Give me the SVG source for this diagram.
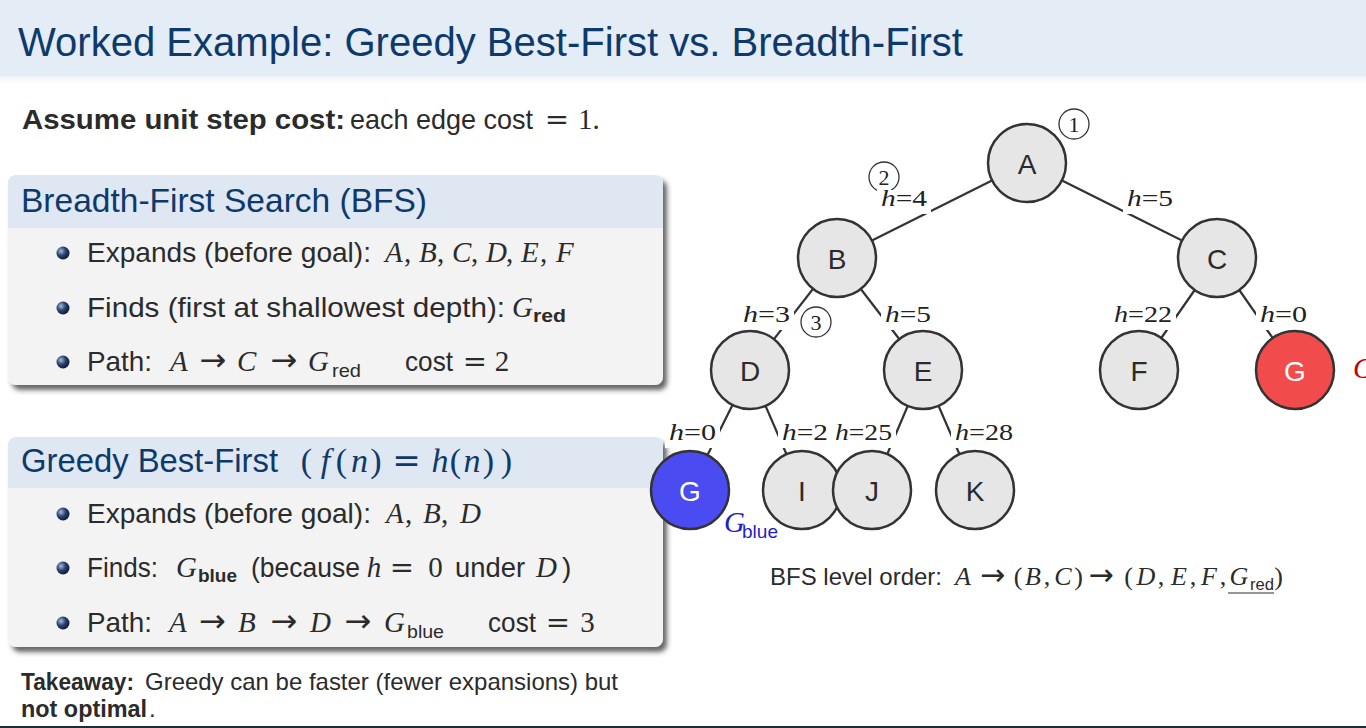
<svg xmlns="http://www.w3.org/2000/svg" width="1366" height="728" viewBox="0 0 1366 728">
<defs>
<style>
.sans{font-family:"Liberation Sans",Arial,sans-serif}
.serif{font-family:"Liberation Serif","DejaVu Serif",serif}
.sym{font-family:"DejaVu Sans","Liberation Sans",sans-serif;text-anchor:middle}
.c{text-anchor:middle}
.it{font-style:italic}
.bd{font-weight:bold}
.txt{fill:#2b2b2b}
.ttl{fill:#0d3a6b}
.b28{font-size:28px}
.m29{font-size:29px}
.sub{font-size:19px}
.gray{fill:#e6e6e6;stroke:#333;stroke-width:2.5}
.nl{font-family:"Liberation Sans",Arial,sans-serif;font-size:28px;fill:#2b2b2b;text-anchor:middle}
.edge{stroke:#333;stroke-width:2.2}
.lbl{font-family:"Liberation Serif","DejaVu Serif",serif;font-size:24px;fill:#222}
.lblbg{fill:#fff}
.num circle{fill:none;stroke:#333;stroke-width:1.3}
.num text{font-family:"Liberation Serif","DejaVu Serif",serif;font-size:22px;text-anchor:middle;fill:#222}
.ball{fill:url(#ball)}
</style>
<radialGradient id="ball" cx="0.35" cy="0.35" r="0.7">
<stop offset="0" stop-color="#a9bbdc"/>
<stop offset="0.5" stop-color="#2a4270"/>
<stop offset="1" stop-color="#0b1833"/>
</radialGradient>
<linearGradient id="barfade" x1="0" y1="0" x2="0" y2="1">
<stop offset="0" stop-color="#eef2f8"/>
<stop offset="1" stop-color="#ffffff"/>
</linearGradient>
<filter id="shadow" x="-5%" y="-5%" width="115%" height="125%">
<feDropShadow dx="4" dy="5" stdDeviation="2.5" flood-color="#333" flood-opacity="0.75"/>
</filter>
</defs>
<rect width="1366" height="728" fill="#fff"/>

<g id="titlebar">
<rect x="0" y="0" width="1366" height="76" fill="#e4ecf6"/>
<rect x="0" y="76" width="1366" height="8" fill="url(#barfade)"/>
<text x="18" y="56" class="sans ttl" font-size="40" textLength="945" lengthAdjust="spacingAndGlyphs">Worked Example: Greedy Best-First vs. Breadth-First</text>
</g>

<g id="assume">
<text x="22" y="129" class="sans txt bd b28" textLength="323" lengthAdjust="spacingAndGlyphs">Assume unit step cost:</text>
<text x="350" y="129" class="sans txt b28" textLength="183" lengthAdjust="spacingAndGlyphs">each edge cost</text>
<text x="557" y="129" class="sym txt" font-size="29">=</text>
<text x="578" y="129" class="serif txt m29">1.</text>
</g>

<g id="block-bfs">
<rect x="8" y="175" width="655" height="210" rx="8" fill="#f3f3f3" filter="url(#shadow)"/>
<path d="M8,228 V183 A8,8 0 0 1 16,175 H655 A8,8 0 0 1 663,183 V228 Z" fill="#dfe7f3"/>
<text x="21" y="212" class="sans ttl" font-size="34" textLength="406" lengthAdjust="spacingAndGlyphs">Breadth-First Search (BFS)</text>
<circle class="ball" cx="63" cy="253" r="6.5"/>
<circle class="ball" cx="63" cy="308" r="6.5"/>
<circle class="ball" cx="63" cy="362" r="6.5"/>
<text x="87" y="262" class="sans txt b28" textLength="284" lengthAdjust="spacingAndGlyphs">Expands (before goal):</text>
<text y="262" class="serif txt m29"><tspan x="385" class="it">A</tspan><tspan x="404">,</tspan><tspan x="419" class="it">B</tspan><tspan x="437">,</tspan><tspan x="452" class="it">C</tspan><tspan x="471">,</tspan><tspan x="486" class="it">D</tspan><tspan x="506">,</tspan><tspan x="521" class="it">E</tspan><tspan x="540">,</tspan><tspan x="556" class="it">F</tspan></text>
<text x="87" y="317" class="sans txt b28" textLength="418" lengthAdjust="spacingAndGlyphs">Finds (first at shallowest depth):</text>
<text x="512" y="317" class="serif txt m29 it">G</text>
<text x="533" y="322" class="sans txt sub bd" textLength="33" lengthAdjust="spacingAndGlyphs">red</text>
<text x="87" y="371" class="sans txt b28" textLength="65" lengthAdjust="spacingAndGlyphs">Path:</text>
<text x="170" y="371" class="serif txt m29 it">A</text>
<text x="213" y="371" class="sym txt" font-size="32">→</text>
<text x="237" y="371" class="serif txt m29 it">C</text>
<text x="284" y="371" class="sym txt" font-size="32">→</text>
<text x="308" y="371" class="serif txt m29 it">G</text>
<text x="332" y="377" class="sans txt sub" textLength="29" lengthAdjust="spacingAndGlyphs">red</text>
<text x="405" y="371" class="sans txt b28" textLength="48" lengthAdjust="spacingAndGlyphs">cost</text>
<text x="475" y="371" class="sym txt" font-size="29">=</text>
<text x="502" y="371" class="serif txt m29 c">2</text>
</g>

<g id="block-greedy">
<rect x="8" y="437" width="655" height="210" rx="8" fill="#f3f3f3" filter="url(#shadow)"/>
<path d="M8,488 V445 A8,8 0 0 1 16,437 H655 A8,8 0 0 1 663,445 V488 Z" fill="#dfe7f3"/>
<text x="21" y="472" class="sans ttl" font-size="34" textLength="257" lengthAdjust="spacingAndGlyphs">Greedy Best-First</text>
<text y="472" class="serif ttl c" font-size="34"><tspan x="306.5">(</tspan><tspan x="325.5" class="it">f</tspan><tspan x="341.5">(</tspan><tspan x="359.5" class="it">n</tspan><tspan x="376">)</tspan><tspan x="440" class="it">h</tspan><tspan x="455.5">(</tspan><tspan x="472" class="it">n</tspan><tspan x="488.5">)</tspan><tspan x="506.5">)</tspan></text>
<text x="406.5" y="472" class="sym ttl" font-size="34">=</text>
<circle class="ball" cx="63" cy="514" r="6.5"/>
<circle class="ball" cx="63" cy="568" r="6.5"/>
<circle class="ball" cx="63" cy="623" r="6.5"/>
<text x="87" y="523" class="sans txt b28" textLength="284" lengthAdjust="spacingAndGlyphs">Expands (before goal):</text>
<text y="523" class="serif txt m29"><tspan x="386" class="it">A</tspan><tspan x="405">,</tspan><tspan x="423" class="it">B</tspan><tspan x="441">,</tspan><tspan x="460" class="it">D</tspan></text>
<text x="87" y="577" class="sans txt b28" textLength="71" lengthAdjust="spacingAndGlyphs">Finds:</text>
<text x="176" y="577" class="serif txt m29 it">G</text>
<text x="198" y="582" class="sans txt sub bd" textLength="39" lengthAdjust="spacingAndGlyphs">blue</text>
<text x="251" y="577" class="sans txt b28" textLength="109" lengthAdjust="spacingAndGlyphs">(because</text>
<text x="374" y="577" class="serif txt m29 it c">h</text>
<text x="402" y="577" class="sym txt" font-size="29">=</text>
<text x="435.5" y="577" class="serif txt m29 c">0</text>
<text x="455" y="577" class="sans txt b28" textLength="70" lengthAdjust="spacingAndGlyphs">under</text>
<text x="536" y="577" class="serif txt m29 it">D</text>
<text x="562" y="577" class="sans txt b28">)</text>
<text x="87" y="632" class="sans txt b28" textLength="65" lengthAdjust="spacingAndGlyphs">Path:</text>
<text x="169" y="632" class="serif txt m29 it">A</text>
<text x="212.5" y="632" class="sym txt" font-size="32">→</text>
<text x="238" y="632" class="serif txt m29 it">B</text>
<text x="284" y="632" class="sym txt" font-size="32">→</text>
<text x="310" y="632" class="serif txt m29 it">D</text>
<text x="358" y="632" class="sym txt" font-size="32">→</text>
<text x="384" y="632" class="serif txt m29 it">G</text>
<text x="407" y="638" class="sans txt sub" textLength="37" lengthAdjust="spacingAndGlyphs">blue</text>
<text x="488" y="632" class="sans txt b28" textLength="48" lengthAdjust="spacingAndGlyphs">cost</text>
<text x="558" y="632" class="sym txt" font-size="29">=</text>
<text x="587.5" y="632" class="serif txt m29 c">3</text>
</g>

<g id="takeaway">
<text x="21" y="690" class="sans txt bd" font-size="24" textLength="113" lengthAdjust="spacingAndGlyphs">Takeaway:</text>
<text x="145" y="690" class="sans txt" font-size="24" textLength="473" lengthAdjust="spacingAndGlyphs">Greedy can be faster (fewer expansions) but</text>
<text x="21" y="717" class="sans txt bd" font-size="24" textLength="126" lengthAdjust="spacingAndGlyphs">not optimal</text>
<text x="149" y="717" class="sans txt" font-size="24">.</text>
</g>

<g id="connectors">
<line class="edge" x1="1027" y1="163" x2="837" y2="258"/>
<line class="edge" x1="1027" y1="163" x2="1217" y2="258"/>
<line class="edge" x1="837" y1="258" x2="750" y2="370"/>
<line class="edge" x1="837" y1="258" x2="923" y2="370"/>
<line class="edge" x1="1217" y1="258" x2="1139" y2="370"/>
<line class="edge" x1="1217" y1="258" x2="1295" y2="370"/>
<line class="edge" x1="750" y1="370" x2="690" y2="490"/>
<line class="edge" x1="750" y1="370" x2="802" y2="490"/>
<line class="edge" x1="923" y1="370" x2="872" y2="490"/>
<line class="edge" x1="923" y1="370" x2="975" y2="490"/>
</g>

<g id="order-marks" class="num">
<circle cx="1074" cy="124" r="15"/><text x="1074" y="132">1</text>
<circle cx="884" cy="177" r="15"/><text x="884" y="185">2</text>
<circle cx="816" cy="322" r="15"/><text x="816" y="330">3</text>
</g>

<g id="edge-labels">
<rect class="lblbg" x="877" y="190" width="54" height="24"/>
<text x="881" y="206" class="lbl" textLength="46" lengthAdjust="spacingAndGlyphs"><tspan class="it">h</tspan>=4</text>
<rect class="lblbg" x="1123" y="185" width="54" height="29"/>
<text x="1127" y="206" class="lbl" textLength="46" lengthAdjust="spacingAndGlyphs"><tspan class="it">h</tspan>=5</text>
<rect class="lblbg" x="739" y="301" width="55" height="29"/>
<text x="743" y="322" class="lbl" textLength="47" lengthAdjust="spacingAndGlyphs"><tspan class="it">h</tspan>=3</text>
<rect class="lblbg" x="881" y="301" width="54" height="29"/>
<text x="885" y="322" class="lbl" textLength="46" lengthAdjust="spacingAndGlyphs"><tspan class="it">h</tspan>=5</text>
<rect class="lblbg" x="1110" y="301" width="66" height="29"/>
<text x="1114" y="322" class="lbl" textLength="58" lengthAdjust="spacingAndGlyphs"><tspan class="it">h</tspan>=22</text>
<rect class="lblbg" x="1256" y="301" width="55" height="29"/>
<text x="1260" y="322" class="lbl" textLength="47" lengthAdjust="spacingAndGlyphs"><tspan class="it">h</tspan>=0</text>
<rect class="lblbg" x="665" y="419" width="55" height="29"/>
<text x="669" y="440" class="lbl" textLength="47" lengthAdjust="spacingAndGlyphs"><tspan class="it">h</tspan>=0</text>
<rect class="lblbg" x="778" y="419" width="54" height="29"/>
<text x="782" y="440" class="lbl" textLength="46" lengthAdjust="spacingAndGlyphs"><tspan class="it">h</tspan>=2</text>
<rect class="lblbg" x="831" y="419" width="65" height="29"/>
<text x="835" y="440" class="lbl" textLength="57" lengthAdjust="spacingAndGlyphs"><tspan class="it">h</tspan>=25</text>
<rect class="lblbg" x="951" y="419" width="66" height="29"/>
<text x="955" y="440" class="lbl" textLength="58" lengthAdjust="spacingAndGlyphs"><tspan class="it">h</tspan>=28</text>
</g>

<g id="node-A"><circle class="gray" cx="1027" cy="163" r="39"/><text class="nl" x="1027" y="174">A</text></g>
<g id="node-B"><circle class="gray" cx="837" cy="258" r="39"/><text class="nl" x="837" y="269">B</text></g>
<g id="node-C"><circle class="gray" cx="1217" cy="258" r="39"/><text class="nl" x="1217" y="269">C</text></g>
<g id="node-D"><circle class="gray" cx="750" cy="370" r="39"/><text class="nl" x="750" y="381">D</text></g>
<g id="node-E"><circle class="gray" cx="923" cy="370" r="39"/><text class="nl" x="923" y="381">E</text></g>
<g id="node-F"><circle class="gray" cx="1139" cy="370" r="39"/><text class="nl" x="1139" y="381">F</text></g>
<g id="node-G-red"><circle cx="1295" cy="370" r="39" fill="#f24b4b" stroke="#333" stroke-width="2.5"/><text class="nl" x="1295" y="381" style="fill:#fff">G</text>
<text x="1353" y="378" class="serif it" font-size="29" fill="#c00000">G</text></g>
<g id="node-G-blue"><circle cx="690" cy="490" r="39" fill="#4b4bf2" stroke="#333" stroke-width="2.5"/><text class="nl" x="690" y="501" style="fill:#fff">G</text>
<text x="724" y="532" class="serif it" font-size="29" fill="#1f1fc8">G</text><text x="742" y="538" class="sans" font-size="19" fill="#1f1fc8" textLength="36" lengthAdjust="spacingAndGlyphs">blue</text></g>
<g id="node-I"><circle class="gray" cx="802" cy="490" r="39"/><text class="nl" x="802" y="501">I</text></g>
<g id="node-J"><circle class="gray" cx="872" cy="490" r="39"/><text class="nl" x="872" y="501">J</text></g>
<g id="node-K"><circle class="gray" cx="975" cy="490" r="39"/><text class="nl" x="975" y="501">K</text></g>

<g id="bfs-order">
<text x="770" y="585" class="sans txt" font-size="24" textLength="172" lengthAdjust="spacingAndGlyphs">BFS level order:</text>
<text y="585" class="serif txt c" font-size="26"><tspan x="963" class="it">A</tspan><tspan x="1018">(</tspan><tspan x="1033" class="it">B</tspan><tspan x="1047">,</tspan><tspan x="1063" class="it">C</tspan><tspan x="1078.5">)</tspan><tspan x="1128.5">(</tspan><tspan x="1146" class="it">D</tspan><tspan x="1161">,</tspan><tspan x="1179" class="it">E</tspan><tspan x="1193">,</tspan><tspan x="1209" class="it">F</tspan><tspan x="1223">,</tspan><tspan x="1239" class="it">G</tspan><tspan x="1278.5">)</tspan></text>
<text x="992.5" y="585" class="sym txt" font-size="30">→</text>
<text x="1101" y="585" class="sym txt" font-size="30">→</text>
<text x="1250" y="590" class="sans txt" font-size="16" textLength="24" lengthAdjust="spacingAndGlyphs">red</text>
<line x1="1228" y1="593" x2="1274" y2="593" stroke="#2b2b2b" stroke-width="1.2"/>
</g>

<rect x="0" y="726" width="1366" height="2" fill="#1c2d3a"/>
</svg>
